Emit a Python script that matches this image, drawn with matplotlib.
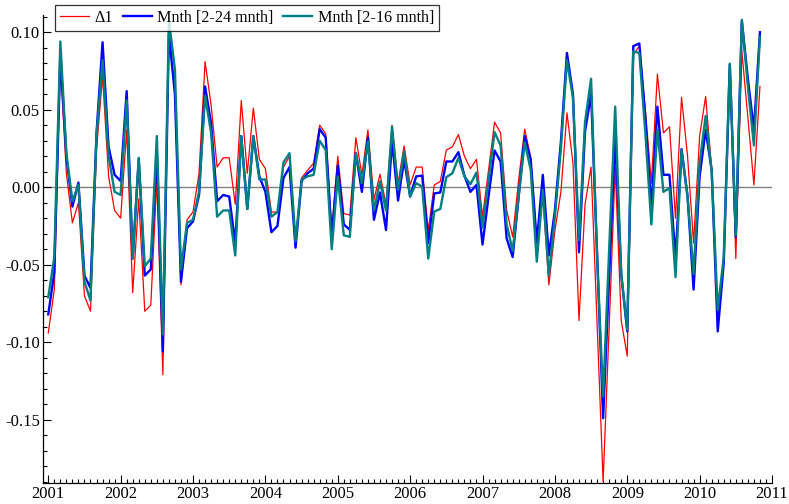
import numpy as np
import matplotlib
matplotlib.use("Agg")
import matplotlib.pyplot as plt
from matplotlib.ticker import MultipleLocator, FormatStrFormatter

# monthly observations, 2001(1) .. 2010(11)
START_YEAR = 2001
N_MONTHS = 119

delta1 = [
    -0.094, -0.066, 0.080, 0.009, -0.023, -0.010, -0.070, -0.080, 0.024, 0.072,
    0.007, -0.015, -0.020, 0.037, -0.068, -0.0075, -0.080, -0.076, 0.005, -0.121,
    0.103, 0.060, -0.063, -0.021, -0.016, 0.009, 0.081, 0.053, 0.013, 0.019,
    0.019, -0.011, 0.056, 0.009, 0.051, 0.018, 0.012, -0.016, -0.016, 0.013,
    0.020, -0.036, 0.006, 0.011, 0.0155, 0.040, 0.0345, -0.028, 0.020, -0.017,
    -0.018, 0.032, 0.008, 0.037, -0.008, 0.0084, -0.011, 0.040, 0.0026, 0.0267,
    0.0015, 0.013, 0.013, -0.028, 0.0015, 0.0037, 0.024, 0.026, 0.034, 0.020,
    0.012, 0.018, -0.019, 0.011, 0.042, 0.035, -0.0147, -0.032, 0.005, 0.0375,
    0.019, -0.034, -0.005, -0.063, -0.028, -0.003, 0.048, 0.0155, -0.086, -0.011,
    0.013, -0.088, -0.190, -0.090, 0.013, -0.086, -0.109, 0.0855, 0.091, 0.050,
    0.0026, 0.073, 0.035, 0.039, -0.020, 0.058, 0.020, -0.036, 0.033, 0.0586,
    0.011, -0.088, -0.045, 0.078, -0.046, 0.0877, 0.045, 0.0015, 0.065,
]

mnth_24 = [
    -0.082, -0.055, 0.085, 0.020, -0.0125, 0.003, -0.057, -0.065, 0.035, 0.0935,
    0.026, 0.008, 0.004, 0.062, -0.046, 0.018, -0.057, -0.053, 0.024, -0.106,
    0.099, 0.060, -0.061, -0.0265, -0.022, -0.005, 0.065, 0.041, -0.009, -0.005,
    -0.006, -0.036, 0.033, -0.014, 0.033, 0.007, -0.003, -0.029, -0.025, 0.006,
    0.013, -0.039, 0.004, 0.009, 0.012, 0.0375, 0.032, -0.032, 0.014, -0.024,
    -0.0275, 0.022, -0.003, 0.032, -0.021, -0.0034, -0.0276, 0.030, -0.0086, 0.0177,
    -0.006, 0.007, 0.0075, -0.036, -0.004, -0.0034, 0.0166, 0.0166, 0.0226, 0.0075,
    -0.003, 0.0015, -0.037, -0.006, 0.0237, 0.0166, -0.033, -0.045, -0.006, 0.033,
    0.0177, -0.036, 0.008, -0.044, -0.015, 0.0295, 0.0866, 0.060, -0.042, 0.036,
    0.060, -0.043, -0.149, -0.058, 0.0327, -0.056, -0.093, 0.091, 0.0927, 0.045,
    -0.0136, 0.052, 0.008, 0.008, -0.046, 0.0246, -0.006, -0.066, 0.007, 0.037,
    0.011, -0.093, -0.049, 0.079, -0.032, 0.107, 0.070, 0.037, 0.100,
]

mnth_16 = [
    -0.071, -0.045, 0.094, 0.022, -0.009, 0.0015, -0.061, -0.073, 0.033, 0.082,
    0.020, -0.003, -0.005, 0.056, -0.046, 0.019, -0.051, -0.046, 0.033, -0.095,
    0.108, 0.076, -0.053, -0.023, -0.021, -0.003, 0.059, 0.035, -0.019, -0.015,
    -0.015, -0.044, 0.033, -0.014, 0.033, 0.005, 0.005, -0.019, -0.016, 0.016,
    0.022, -0.035, 0.005, 0.007, 0.008, 0.030, 0.024, -0.040, 0.007, -0.031,
    -0.032, 0.022, 0.0026, 0.0295, -0.015, 0.0037, -0.015, 0.039, -0.0017, 0.023,
    -0.006, 0.0026, 0.0004, -0.046, -0.0157, -0.014, 0.0065, 0.009, 0.019, 0.007,
    0.002, 0.0095, -0.026, 0.0047, 0.0355, 0.027, -0.024, -0.041, -0.005, 0.029,
    0.011, -0.048, -0.0017, -0.057, -0.019, 0.025, 0.082, 0.0575, -0.034, 0.042,
    0.070, -0.045, -0.135, -0.040, 0.052, -0.056, -0.092, 0.0877, 0.0866, 0.035,
    -0.024, 0.037, -0.003, -0.0006, -0.058, 0.024, -0.006, -0.056, 0.0155, 0.046,
    0.010, -0.079, -0.045, 0.0797, -0.031, 0.108, 0.065, 0.027, 0.097,
]

labels = ["\u03941", "Mnth [2-24 mnth]", "Mnth [2-16 mnth]"]
colors = ["#ff0000", "#0000ff", "#008080"]

t = START_YEAR + np.arange(N_MONTHS) / 12.0

plt.rcParams["font.family"] = ["Liberation Serif", "DejaVu Serif"]
plt.rcParams["font.size"] = 12

fig = plt.figure(figsize=(7.89, 5.04), dpi=100)
ax = fig.add_axes([42.7 / 789, 21 / 504, (772 - 42.7) / 789, (483 - 15) / 504])

ax.axhline(0, color="#808080", lw=1.0, zorder=1)
ax.plot(t, delta1, color=colors[0], lw=0.9, label=labels[0], zorder=2)
ax.plot(t, mnth_24, color=colors[1], lw=1.7, label=labels[1], zorder=3)
ax.plot(t, mnth_16, color=colors[2], lw=1.7, label=labels[2], zorder=4)

ax.set_xlim(2000.923, 2011.0)
ax.set_ylim(-0.1908, 0.1111)

for s in ("top", "right"):
    ax.spines[s].set_visible(False)
ax.spines["left"].set_linewidth(0.9)
ax.spines["bottom"].set_linewidth(0.9)

ax.xaxis.set_major_locator(MultipleLocator(1))
ax.xaxis.set_minor_locator(MultipleLocator(1 / 12))
ax.xaxis.set_major_formatter(FormatStrFormatter("%d"))
ax.yaxis.set_major_locator(MultipleLocator(0.05))
ax.yaxis.set_minor_locator(MultipleLocator(0.01))
ax.yaxis.set_major_formatter(FormatStrFormatter("%.2f"))
ax.tick_params(which="both", direction="in", width=0.8)
ax.tick_params(which="major", length=6, labelsize=12, pad=2)
ax.tick_params(which="minor", length=3)

leg = fig.legend(loc="upper left", bbox_to_anchor=(55 / 789, 1 - 5 / 504), ncol=3,
                 frameon=True, fancybox=False, fontsize=11.6, handlelength=1.8,
                 handletextpad=0.35, columnspacing=0.6, borderpad=0.3,
                 borderaxespad=0)
leg.get_frame().set_edgecolor("black")
leg.get_frame().set_linewidth(0.9)

fig.savefig("out.png", dpi=100)
